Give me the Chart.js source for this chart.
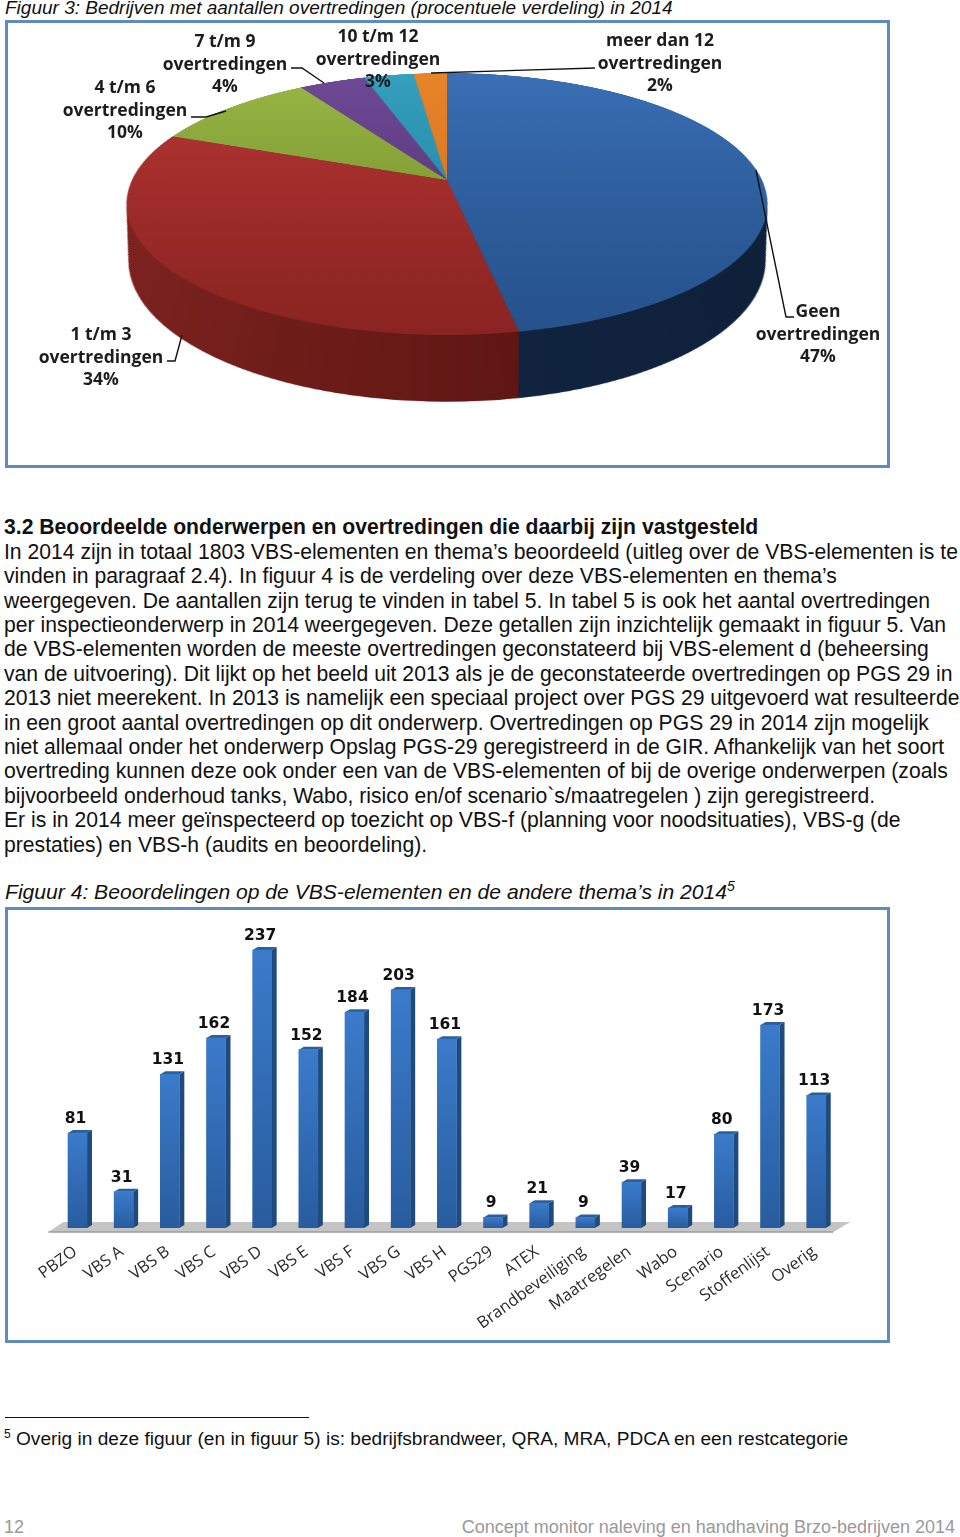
<!DOCTYPE html>
<html lang="nl">
<head>
<meta charset="utf-8">
<title>Figuur 3 en 4</title>
<script src="https://cdn.jsdelivr.net/npm/chart.js@4"></script>
<style>
  html, body { margin: 0; padding: 0; background: #fff; }
  #page { position: relative; width: 960px; height: 1537px; overflow: hidden; font-family: "Liberation Sans", Arial, sans-serif; color: #111; }
  .abs { position: absolute; white-space: pre; }
  .fig-title { font-style: italic; font-size: 19px; }
  .frame { position: absolute; left: 5px; width: 879px; border: 3.5px solid #5f8bc0; box-sizing: content-box; }
  #pieWrap { position: absolute; left: 117px; top: -150px; width: 660px; height: 860px; transform-origin: 330px 330px; transform: perspective(1576px) rotateX(66.3deg); }
  #barWrap { position: absolute; left: 0; top: 907px; width: 890px; height: 437px; }
  #leaders { position: absolute; left: 0; top: 0; }
  .pie-label { position: absolute; text-align: center; transform: translateX(-50%); font: bold 17.5px/22.6px "Open Sans", sans-serif; color: #1c1c1c; white-space: pre; }
  #body { left: 4px; top: 515.3px; font-size: 21.15px; line-height: 24.4px; }
  #body b { font-weight: bold; }
  sup { font-size: 12px; line-height: 0; }
</style>
</head>
<body>
<div id="page">
  <div class="abs fig-title" style="left:5px;top:-3px">Figuur 3: Bedrijven met aantallen overtredingen (procentuele verdeling) in 2014</div>
  <div class="frame" style="top:20px;height:442px"></div>
  <div id="pieWrap"><canvas id="chart-pie" width="660" height="860"></canvas></div>
  <svg id="leaders" width="960" height="480" fill="none" stroke="#111" stroke-width="1.4">
    <polyline points="756,170 786,317 794,317"/>
    <polyline points="182,335 175,361 167,361"/>
    <polyline points="226,111 206,117 191,117"/>
    <polyline points="324,83 302,68 291,68"/>
    <polyline points="431,73 595,68"/>
  </svg>
  <div id="pieLabels"></div>

  <div class="abs" id="body"></div>

  <div class="abs fig-title" style="left:5px;top:880px;font-size:21.1px">Figuur 4: Beoordelingen op de VBS-elementen en de andere thema’s in 2014<sup style="font-size:14px">5</sup></div>
  <div class="frame" style="top:907px;height:430px"></div>
  <div id="barWrap"><canvas id="chart-bar" width="890" height="437"></canvas></div>

  <div class="abs" style="left:5px;top:1417px;width:304px;height:1px;background:#111"></div>
  <div class="abs" style="left:4px;top:1428px;font-size:19.1px"><sup>5</sup> Overig in deze figuur (en in figuur 5) is: bedrijfsbrandweer, QRA, MRA, PDCA en een restcategorie</div>
  <div class="abs" style="left:4px;top:1517px;font-size:18px;color:#999">12</div>
  <div class="abs" style="right:5px;top:1517px;font-size:18px;color:#999">Concept monitor naleving en handhaving Brzo-bedrijven 2014</div>
</div>

<script>
// Figuur 3
const pieCategories = ['Geen', '1 t/m 3', '4 t/m 6', '7 t/m 9', '10 t/m 12', 'meer dan 12'];
const pieValues = [47, 34, 10, 4, 3, 2];

// Figuur 4
const barCategories = ['PBZO', 'VBS A', 'VBS B', 'VBS C', 'VBS D', 'VBS E', 'VBS F', 'VBS G', 'VBS H', 'PGS29', 'ATEX', 'Brandbeveiliging', 'Maatregelen', 'Wabo', 'Scenario', 'Stoffenlijst', 'Overig'];
const barValues = [81, 31, 131, 162, 237, 152, 184, 203, 161, 9, 21, 9, 39, 17, 80, 173, 113];

// Lopende tekst
const bodyLines = [
  '<b>3.2 Beoordeelde onderwerpen en overtredingen die daarbij zijn vastgesteld</b>',
  'In 2014 zijn in totaal 1803 VBS-elementen en thema’s beoordeeld (uitleg over de VBS-elementen is te',
  'vinden in paragraaf 2.4). In figuur 4 is de verdeling over deze VBS-elementen en thema’s',
  'weergegeven. De aantallen zijn terug te vinden in tabel 5. In tabel 5 is ook het aantal overtredingen',
  'per inspectieonderwerp in 2014 weergegeven. Deze getallen zijn inzichtelijk gemaakt in figuur 5. Van',
  'de VBS-elementen worden de meeste overtredingen geconstateerd bij VBS-element d (beheersing',
  'van de uitvoering). Dit lijkt op het beeld uit 2013 als je de geconstateerde overtredingen op PGS 29 in',
  '2013 niet meerekent. In 2013 is namelijk een speciaal project over PGS 29 uitgevoerd wat resulteerde',
  'in een groot aantal overtredingen op dit onderwerp. Overtredingen op PGS 29 in 2014 zijn mogelijk',
  'niet allemaal onder het onderwerp Opslag PGS-29 geregistreerd in de GIR. Afhankelijk van het soort',
  'overtreding kunnen deze ook onder een van de VBS-elementen of bij de overige onderwerpen (zoals',
  'bijvoorbeeld onderhoud tanks, Wabo, risico en/of scenario`s/maatregelen ) zijn geregistreerd.',
  'Er is in 2014 meer geïnspecteerd op toezicht op VBS-f (planning voor noodsituaties), VBS-g (de',
  'prestaties) en VBS-h (audits en beoordeling).'
];

const pieTopColors = [['#3a70b6', '#26528c'], ['#bb3836', '#8a2422'], ['#9ab845', '#6f8a2c'], ['#6f4a96', '#503270'], ['#35a0bf', '#1f7f9c'], ['#e8842a', '#d0701c']];
const pieSideColors = [['#14294a', '#0f2038'], ['#4a0e0b', '#7f2420'], ['#4c5f1e', '#4c5f1e'], ['#3a2454', '#3a2454'], ['#185c70', '#185c70'], ['#95500f', '#95500f']];
const labelSpots = [[818, 299], [101, 322], [125, 75], [225, 29], [378, 24], [660, 28]];
const depthSteps = 128;
const depthShrink = 0.08;

document.getElementById('body').innerHTML = bodyLines.join('\n');

pieCategories.forEach((cat, i) => {
  const el = document.createElement('div');
  el.className = 'pie-label';
  el.style.left = labelSpots[i][0] + 'px';
  el.style.top = labelSpots[i][1] + 'px';
  el.textContent = cat + '\novertredingen\n' + pieValues[i] + '%';
  document.getElementById('pieLabels').appendChild(el);
});

// Zijkant van de taart: dezelfde arcs, steeds iets lager en kleiner getekend
const pieDepth = {
  id: 'pieDepth',
  beforeDatasetsDraw(chart) {
    const ctx = chart.ctx;
    const arcs = chart.getDatasetMeta(0).data;
    const r = arcs[0].outerRadius;
    const cx = arcs[0].x;
    for (let step = depthSteps; step > 0; step--) {
      const t = step / depthSteps;
      arcs.forEach((arc, i) => {
        const side = ctx.createLinearGradient(cx - r, 0, cx + r, 0);
        side.addColorStop(0, i === 1 ? pieSideColors[1][1] : pieSideColors[i][0]);
        side.addColorStop(1, i === 1 ? pieSideColors[1][0] : pieSideColors[i][1]);
        ctx.fillStyle = side;
        ctx.beginPath();
        ctx.moveTo(arc.x, arc.y + step);
        ctx.arc(arc.x, arc.y + step, arc.outerRadius * (1 - depthShrink * t), arc.startAngle, arc.endAngle);
        ctx.closePath();
        ctx.fill();
      });
    }
  }
};

const PieChart = new Chart(document.getElementById('chart-pie'), {
  type: 'pie',
  data: {
    labels: pieCategories,
    datasets: [{
      data: pieValues,
      borderWidth: 0,
      backgroundColor: c => {
        const area = c.chart.chartArea;
        if (!area) return pieTopColors[c.dataIndex][0];
        const g = c.chart.ctx.createLinearGradient(0, area.top, 0, area.bottom);
        g.addColorStop(0, pieTopColors[c.dataIndex][0]);
        g.addColorStop(1, pieTopColors[c.dataIndex][1]);
        return g;
      }
    }]
  },
  options: {
    responsive: false,
    animation: false,
    devicePixelRatio: 2,
    layout: { padding: { left: 15, right: 15, top: 15, bottom: 215 } },
    plugins: { legend: { display: false }, tooltip: { enabled: false } }
  },
  plugins: [pieDepth]
});

// Vloer en zijvlakken van de staven
const barDepth = {
  id: 'barDepth',
  beforeDatasetsDraw(chart) {
    const ctx = chart.ctx;
    const area = chart.chartArea;
    const floorBottom = area.bottom + 4;
    const floorTop = area.bottom - 6;
    ctx.fillStyle = '#c4c4c4';
    ctx.beginPath();
    ctx.moveTo(area.left - 6, floorBottom);
    ctx.lineTo(area.left + 9, floorTop);
    ctx.lineTo(area.right + 11, floorTop);
    ctx.lineTo(area.right - 6, floorBottom);
    ctx.closePath();
    ctx.fill();
    ctx.strokeStyle = '#9c9c9c';
    ctx.lineWidth = 1.5;
    ctx.beginPath();
    ctx.moveTo(area.left - 6, floorBottom);
    ctx.lineTo(area.right - 6, floorBottom);
    ctx.stroke();

    chart.getDatasetMeta(0).data.forEach(bar => {
      const left = bar.x - bar.width / 2;
      const right = bar.x + bar.width / 2;
      ctx.fillStyle = '#1f4a7e';
      ctx.beginPath();
      ctx.moveTo(right, bar.y);
      ctx.lineTo(right + 5, bar.y - 3);
      ctx.lineTo(right + 5, bar.base - 3);
      ctx.lineTo(right, bar.base);
      ctx.closePath();
      ctx.fill();
      ctx.fillStyle = '#2a5f9f';
      ctx.beginPath();
      ctx.moveTo(left, bar.y);
      ctx.lineTo(left + 5, bar.y - 3);
      ctx.lineTo(right + 5, bar.y - 3);
      ctx.lineTo(right, bar.y);
      ctx.closePath();
      ctx.fill();
    });
  }
};

const barValueLabels = {
  id: 'barValueLabels',
  afterDatasetsDraw(chart) {
    const ctx = chart.ctx;
    ctx.save();
    ctx.font = 'bold 15.5px "DejaVu Sans"';
    ctx.fillStyle = '#111';
    ctx.textAlign = 'center';
    ctx.textBaseline = 'alphabetic';
    chart.getDatasetMeta(0).data.forEach((bar, i) => {
      ctx.fillText(barValues[i], bar.x - 2, bar.y - 10);
    });
    ctx.restore();
  }
};

const BarChart = new Chart(document.getElementById('chart-bar'), {
  type: 'bar',
  data: {
    labels: barCategories,
    datasets: [{
      data: barValues,
      barThickness: 19,
      backgroundColor: c => {
        const y = c.chart.scales.y;
        const top = y && typeof c.raw === 'number' ? y.getPixelForValue(c.raw) : NaN;
        const base = y ? y.getPixelForValue(0) : NaN;
        if (!isFinite(top) || !isFinite(base)) return '#2f68b0';
        const g = c.chart.ctx.createLinearGradient(0, top, 0, base);
        g.addColorStop(0, '#3b7bcb');
        g.addColorStop(1, '#285c9e');
        return g;
      }
    }]
  },
  options: {
    responsive: false,
    animation: false,
    layout: { padding: { left: 54.4, right: 50.7, top: 27.75, bottom: 0 } },
    plugins: { legend: { display: false }, tooltip: { enabled: false } },
    scales: {
      x: {
        grid: { display: false, drawTicks: false },
        border: { display: false },
        afterFit: axis => { axis.height = 116; },
        ticks: {
          autoSkip: false,
          minRotation: 36,
          maxRotation: 36,
          padding: 14,
          labelOffset: -2,
          color: '#2a2a2a',
          font: { family: '"Open Sans"', size: 16.5 }
        }
      },
      y: { display: false, min: 0, max: 250 }
    }
  },
  plugins: [barDepth, barValueLabels]
});
</script>
</body>
</html>
